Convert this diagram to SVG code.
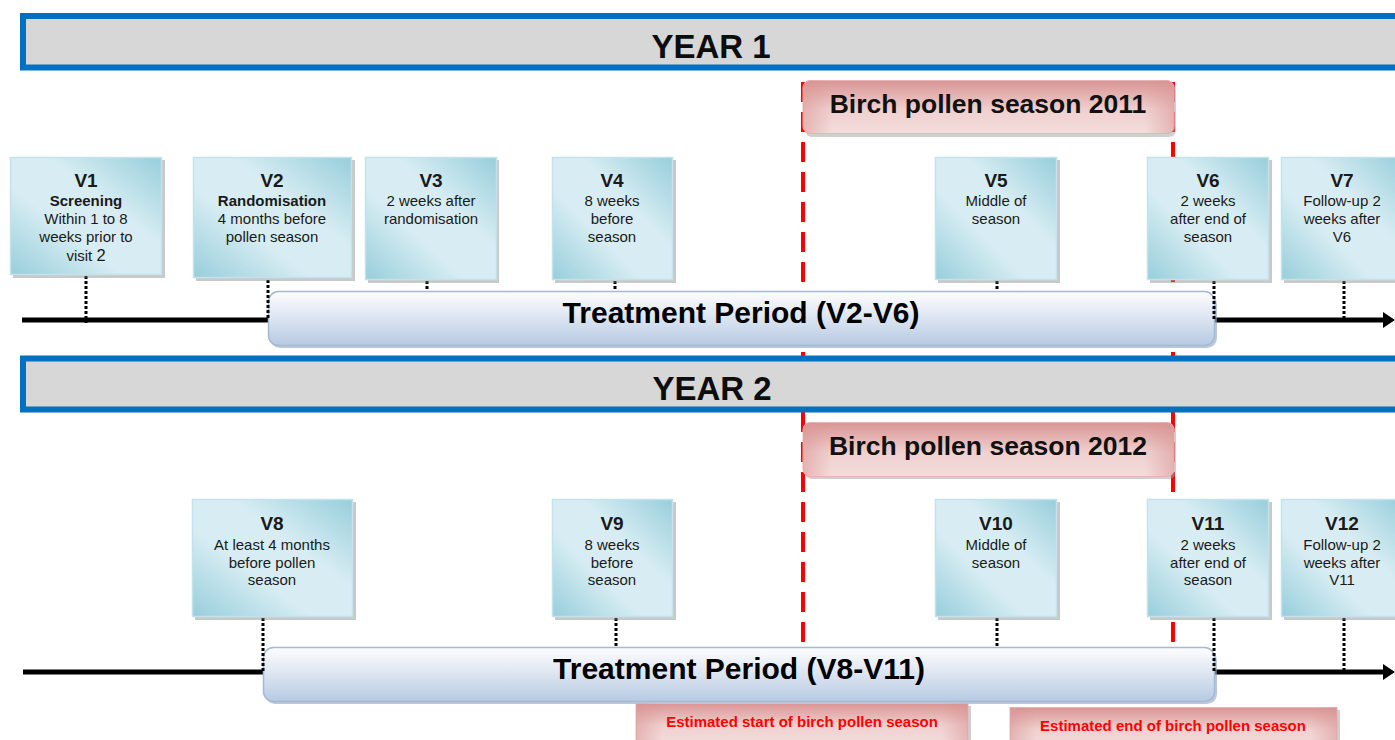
<svg xmlns="http://www.w3.org/2000/svg" width="1395" height="740" viewBox="0 0 1395 740">
<defs>
<linearGradient id="visitG" x1="0" y1="1" x2="1" y2="0">
<stop offset="0" stop-color="#97cedb"/>
<stop offset="0.38" stop-color="#d8edf3"/>
<stop offset="0.62" stop-color="#d8edf3"/>
<stop offset="1" stop-color="#97cedb"/>
</linearGradient>
<linearGradient id="barG" x1="0" y1="0" x2="0" y2="1">
<stop offset="0" stop-color="#fdfdfe"/>
<stop offset="0.35" stop-color="#e6ecf5"/>
<stop offset="1" stop-color="#b6cae3"/>
</linearGradient>
<linearGradient id="pinkG" x1="0" y1="0" x2="0" y2="1">
<stop offset="0" stop-color="#d99594"/>
<stop offset="0.55" stop-color="#efd0cf"/>
<stop offset="1" stop-color="#f3dddc"/>
</linearGradient>
<linearGradient id="pinkH" x1="0" y1="0" x2="1" y2="0">
<stop offset="0" stop-color="#d99594" stop-opacity="0.55"/>
<stop offset="0.08" stop-color="#d99594" stop-opacity="0"/>
<stop offset="0.92" stop-color="#d99594" stop-opacity="0"/>
<stop offset="1" stop-color="#d99594" stop-opacity="0.55"/>
</linearGradient>
<style>
.yearbar{fill:#d7d7d7;stroke:#0070c0;stroke-width:6}
.yeartxt{font-family:"Liberation Sans",Arial,sans-serif;font-weight:bold;font-size:33px;fill:#0d0d0d;text-anchor:middle}
.season{stroke:#ff0000;stroke-width:4;stroke-dasharray:20 10;fill:none}
.timeline{stroke:#000;stroke-width:5;fill:none}
.dot{stroke:#000;stroke-width:3;stroke-dasharray:3 2;fill:none}
.shadow{fill:#7f7f7f;opacity:0.42}
.visit{fill:url(#visitG);stroke:#c3e3ec;stroke-width:1.5}
.vt{font-family:"Liberation Sans",Arial,sans-serif;font-weight:bold;font-size:19px;fill:#1a1a1a;text-anchor:middle}
.vb{font-family:"Liberation Sans",Arial,sans-serif;font-weight:bold;font-size:15px;fill:#1a1a1a;text-anchor:middle}
.vn{font-family:"Liberation Sans",Arial,sans-serif;font-size:15px;fill:#1a1a1a;text-anchor:middle}
.bar{fill:url(#barG);stroke:#a3b9d6;stroke-width:1.5}
.barsh{fill:#8ea3bd;opacity:0.6}
.bartxt{font-family:"Liberation Sans",Arial,sans-serif;font-weight:bold;font-size:30px;fill:#000;text-anchor:middle}
.pink{fill:url(#pinkG);stroke:#e7b7b6;stroke-width:1}
.pinkedge{fill:url(#pinkH)}
.pinksh{fill:#a0a0a0;opacity:0.5}
.birchtxt{font-family:"Liberation Sans",Arial,sans-serif;font-weight:bold;font-size:26.5px;fill:#111;text-anchor:middle}
.esttxt{font-family:"Liberation Sans",Arial,sans-serif;font-weight:bold;font-size:15px;fill:#ff0000;text-anchor:middle}
</style>
</defs>

<g id="season-lines">
<line class="season" x1="803" y1="82" x2="803" y2="704"/>
<line class="season" x1="1173" y1="82" x2="1173" y2="704"/>
</g>

<g id="year1">
<rect class="yearbar" x="23" y="16" width="1400" height="51.5"/>
<text class="yeartxt" x="711" y="58">YEAR 1</text>
</g>
<g id="year2">
<rect class="yearbar" x="23" y="358.5" width="1400" height="51"/>
<text class="yeartxt" x="712" y="400">YEAR 2</text>
</g>

<g id="connectors">
<line class="timeline" x1="22" y1="320" x2="1386" y2="320"/>
<polygon points="1383,312 1395,320 1383,328" fill="#000"/>
<line class="timeline" x1="23" y1="672" x2="1386" y2="672"/>
<polygon points="1383,664 1395,672 1383,680" fill="#000"/>
</g>

<g id="treatment1">
<rect class="barsh" x="270" y="294" width="947" height="54" rx="10"/>
<rect class="bar" x="268.5" y="291.5" width="946" height="54" rx="10"/>
<text class="bartxt" x="741" y="323">Treatment Period (V2-V6)</text>
</g>
<g id="treatment2">
<rect class="barsh" x="265" y="650" width="952" height="54" rx="10"/>
<rect class="bar" x="263.5" y="647.5" width="951" height="54" rx="10"/>
<text class="bartxt" x="739" y="679">Treatment Period (V8-V11)</text>
</g>

<g id="dotted-connectors">
<line class="dot" x1="86" y1="276" x2="86" y2="323"/>
<line class="dot" x1="268" y1="280" x2="268" y2="320"/>
<line class="dot" x1="427" y1="281" x2="427" y2="291"/>
<line class="dot" x1="615" y1="281" x2="615" y2="291"/>
<line class="dot" x1="997" y1="281" x2="997" y2="291"/>
<line class="dot" x1="1214" y1="281" x2="1214" y2="320"/>
<line class="dot" x1="1344" y1="281" x2="1344" y2="320"/>
<line class="dot" x1="263" y1="618" x2="263" y2="672"/>
<line class="dot" x1="616" y1="618" x2="616" y2="647"/>
<line class="dot" x1="997" y1="618" x2="997" y2="647"/>
<line class="dot" x1="1214" y1="618" x2="1214" y2="672"/>
<line class="dot" x1="1344" y1="618" x2="1344" y2="672"/>
</g>

<g id="birch2011">
<rect class="pinksh" x="805" y="83" width="371" height="54" rx="7"/>
<rect class="pink" x="803" y="80.5" width="371" height="53" rx="7"/>
<rect class="pinkedge" x="803" y="80.5" width="371" height="53" rx="7"/>
<text class="birchtxt" x="988" y="113">Birch pollen season 2011</text>
</g>
<g id="birch2012">
<rect class="pinksh" x="805" y="425" width="371" height="54" rx="7"/>
<rect class="pink" x="803" y="422.5" width="371" height="54" rx="7"/>
<rect class="pinkedge" x="803" y="422.5" width="371" height="54" rx="7"/>
<text class="birchtxt" x="988" y="455">Birch pollen season 2012</text>
</g>

<g id="V1">
<rect class="shadow" x="13" y="160" width="152" height="118"/>
<rect class="visit" x="10.5" y="157.5" width="151" height="117"/>
<text class="vt" x="86" y="187">V1</text>
<text class="vb" x="86" y="206">Screening</text>
<text class="vn" x="86" y="224">Within 1 to 8</text>
<text class="vn" x="86" y="242">weeks prior to</text>
<text class="vn" x="86" y="261">visit <tspan font-size="16.5px">2</tspan></text>
</g>
<g id="V2">
<rect class="shadow" x="196" y="160" width="159" height="121"/>
<rect class="visit" x="193.5" y="157.5" width="158" height="120"/>
<text class="vt" x="272" y="187">V2</text>
<text class="vb" x="272" y="206">Randomisation</text>
<text class="vn" x="272" y="224">4 months before</text>
<text class="vn" x="272" y="242">pollen season</text>
</g>
<g id="V3">
<rect class="shadow" x="368" y="160" width="131" height="123"/>
<rect class="visit" x="365.5" y="157.5" width="131" height="122"/>
<text class="vt" x="431" y="187">V3</text>
<text class="vn" x="431" y="206">2 weeks after</text>
<text class="vn" x="431" y="224">randomisation</text>
</g>
<g id="V4">
<rect class="shadow" x="555" y="160" width="121" height="123"/>
<rect class="visit" x="552.5" y="157.5" width="120" height="122"/>
<text class="vt" x="612" y="187">V4</text>
<text class="vn" x="612" y="206">8 weeks</text>
<text class="vn" x="612" y="224">before</text>
<text class="vn" x="612" y="242">season</text>
</g>
<g id="V5">
<rect class="shadow" x="938" y="160" width="122" height="123"/>
<rect class="visit" x="935.5" y="157.5" width="121" height="122"/>
<text class="vt" x="996" y="187">V5</text>
<text class="vn" x="996" y="206">Middle of</text>
<text class="vn" x="996" y="224">season</text>
</g>
<g id="V6">
<rect class="shadow" x="1150" y="160" width="122" height="123"/>
<rect class="visit" x="1147.5" y="157.5" width="121" height="122"/>
<text class="vt" x="1208" y="187">V6</text>
<text class="vn" x="1208" y="206">2 weeks</text>
<text class="vn" x="1208" y="224">after end of</text>
<text class="vn" x="1208" y="242">season</text>
</g>
<g id="V7">
<rect class="shadow" x="1284" y="160" width="122" height="123"/>
<rect class="visit" x="1281.5" y="157.5" width="122" height="122"/>
<text class="vt" x="1342" y="187">V7</text>
<text class="vn" x="1342" y="206">Follow-up 2</text>
<text class="vn" x="1342" y="224">weeks after</text>
<text class="vn" x="1342" y="242">V6</text>
</g>

<g id="V8">
<rect class="shadow" x="195" y="502" width="161" height="118"/>
<rect class="visit" x="192.5" y="499.5" width="160" height="117"/>
<text class="vt" x="272" y="530">V8</text>
<text class="vn" x="272" y="550">At least 4 months</text>
<text class="vn" x="272" y="568">before pollen</text>
<text class="vn" x="272" y="585">season</text>
</g>
<g id="V9">
<rect class="shadow" x="555" y="502" width="121" height="118"/>
<rect class="visit" x="552.5" y="499.5" width="120" height="117"/>
<text class="vt" x="612" y="530">V9</text>
<text class="vn" x="612" y="550">8 weeks</text>
<text class="vn" x="612" y="568">before</text>
<text class="vn" x="612" y="585">season</text>
</g>
<g id="V10">
<rect class="shadow" x="938" y="502" width="122" height="118"/>
<rect class="visit" x="935.5" y="499.5" width="121" height="117"/>
<text class="vt" x="996" y="530">V10</text>
<text class="vn" x="996" y="550">Middle of</text>
<text class="vn" x="996" y="568">season</text>
</g>
<g id="V11">
<rect class="shadow" x="1150" y="502" width="122" height="118"/>
<rect class="visit" x="1147.5" y="499.5" width="121" height="117"/>
<text class="vt" x="1208" y="530">V11</text>
<text class="vn" x="1208" y="550">2 weeks</text>
<text class="vn" x="1208" y="568">after end of</text>
<text class="vn" x="1208" y="585">season</text>
</g>
<g id="V12">
<rect class="shadow" x="1284" y="502" width="122" height="118"/>
<rect class="visit" x="1281.5" y="499.5" width="122" height="117"/>
<text class="vt" x="1342" y="530">V12</text>
<text class="vn" x="1342" y="550">Follow-up 2</text>
<text class="vn" x="1342" y="568">weeks after</text>
<text class="vn" x="1342" y="585">V11</text>
</g>

<g id="est-start">
<rect class="pinksh" x="638" y="706" width="333" height="40"/>
<rect class="pink" x="636" y="703.5" width="332" height="40"/>
<rect class="pinkedge" x="636" y="703.5" width="332" height="40"/>
<text class="esttxt" x="802" y="727">Estimated start of birch pollen season</text>
</g>
<g id="est-end">
<rect class="pinksh" x="1012" y="710" width="328" height="40"/>
<rect class="pink" x="1010" y="707.5" width="327" height="40"/>
<rect class="pinkedge" x="1010" y="707.5" width="327" height="40"/>
<text class="esttxt" x="1173" y="731">Estimated end of birch pollen season</text>
</g>
</svg>
